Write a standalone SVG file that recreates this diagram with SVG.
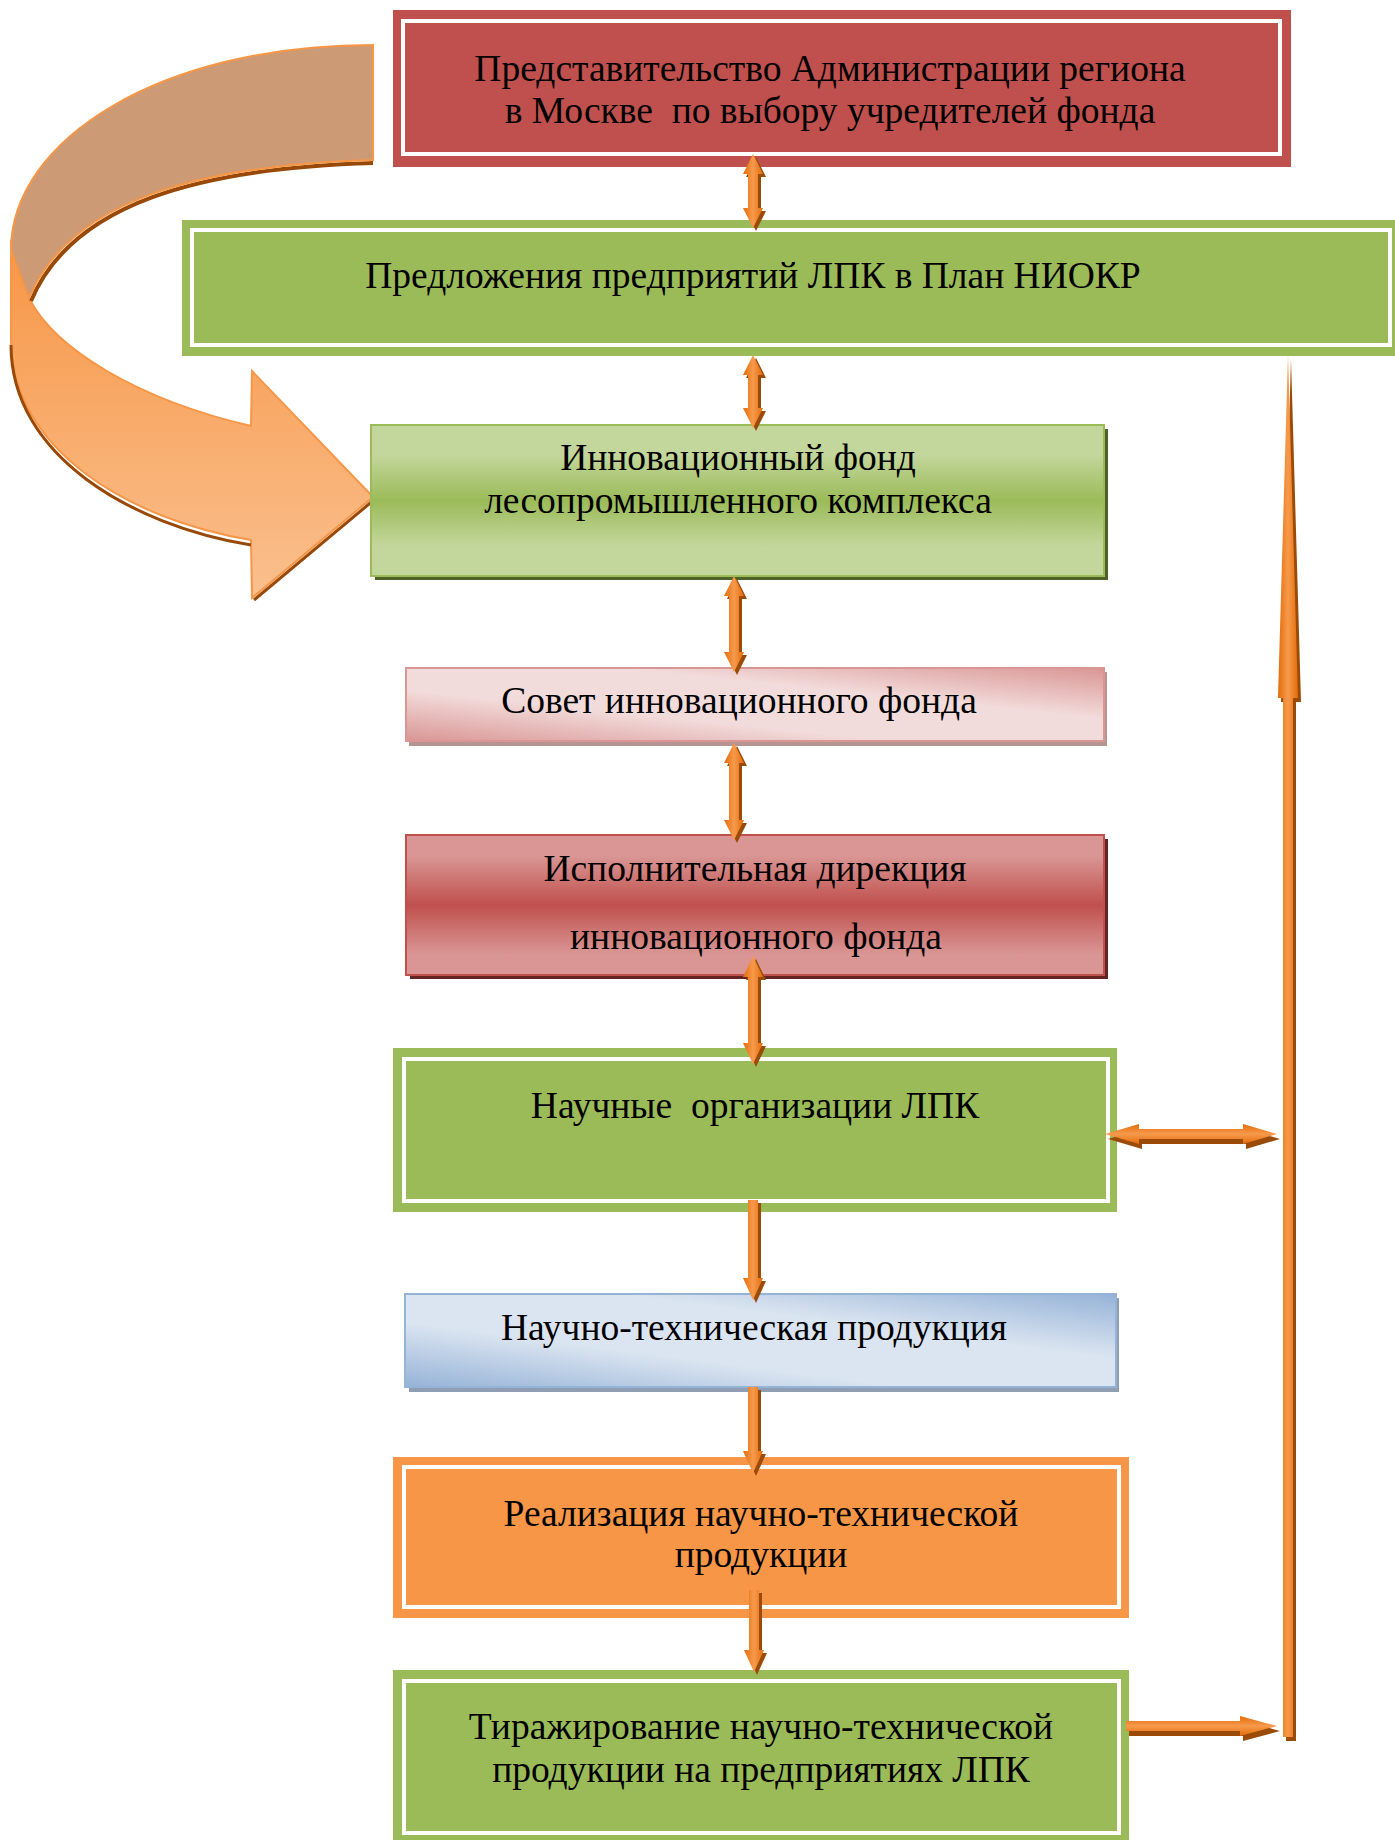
<svg xmlns="http://www.w3.org/2000/svg" width="1395" height="1840" viewBox="0 0 1395 1840">
<style>
.t{font-family:"Liberation Serif","Times New Roman",serif;font-size:37.5px;fill:#000;text-anchor:middle}
.wl{fill:none;stroke:#fff;stroke-width:4}
.af{fill:url(#gv)}
.ah{fill:url(#gh)}
.as{fill:#9A4B07}
</style>
<defs>
<linearGradient id="gv" x1="0" y1="0" x2="1" y2="0">
<stop offset="0" stop-color="#E36C09"/><stop offset="0.5" stop-color="#F79A4C"/><stop offset="1" stop-color="#E36C09"/>
</linearGradient>
<linearGradient id="gh" x1="0" y1="0" x2="0" y2="1">
<stop offset="0" stop-color="#E36C09"/><stop offset="0.5" stop-color="#F79A4C"/><stop offset="1" stop-color="#E36C09"/>
</linearGradient>
<linearGradient id="gGreen" x1="0" y1="0" x2="0" y2="1">
<stop offset="0" stop-color="#C3D69B"/><stop offset="0.2" stop-color="#C3D69B"/><stop offset="0.5" stop-color="#9BBB59"/><stop offset="0.8" stop-color="#C3D69B"/><stop offset="1" stop-color="#C3D69B"/>
</linearGradient>
<linearGradient id="gRed" x1="0" y1="0" x2="0" y2="1">
<stop offset="0" stop-color="#D99694"/><stop offset="0.15" stop-color="#D99694"/><stop offset="0.5" stop-color="#C0504D"/><stop offset="0.85" stop-color="#D99694"/><stop offset="1" stop-color="#D99694"/>
</linearGradient>
<linearGradient id="gPink" x1="1" y1="0" x2="0" y2="1">
<stop offset="0" stop-color="#D99694"/><stop offset="0.35" stop-color="#F2DCDB"/><stop offset="0.65" stop-color="#F2DCDB"/><stop offset="1" stop-color="#D99694"/>
</linearGradient>
<linearGradient id="gBlue" x1="1" y1="0" x2="0" y2="1">
<stop offset="0" stop-color="#95B3D7"/><stop offset="0.35" stop-color="#DBE5F1"/><stop offset="0.65" stop-color="#DBE5F1"/><stop offset="1" stop-color="#95B3D7"/>
</linearGradient>
<linearGradient id="gCurve" x1="0" y1="240" x2="0" y2="600" gradientUnits="userSpaceOnUse">
<stop offset="0" stop-color="#F79646"/><stop offset="1" stop-color="#FAC08F"/>
</linearGradient>
</defs>

<g id="curved-arrow">
<path d="M11,240 L11,340 C11,450 130,520 251,540 L252,598 L373,497 L252,371 L251,426 C140,400 55,350 29,298 Z" fill="url(#gCurve)" stroke="#F79646" stroke-width="2"/>
<path d="M11,345 C11,455 130,525 251,545 M254,600 L375,499" fill="none" stroke="#984807" stroke-width="3"/>
<path d="M31,301 C72,203 200,168 373,163" fill="none" stroke="#984807" stroke-width="4"/>
<path d="M373,45 C160,45 11,140 11,250 L29,298 C70,200 200,165 373,160 Z" fill="#CC9A74" stroke="#F79646" stroke-width="2"/>
</g>

<g id="n1">
<rect x="393" y="10" width="898" height="157" fill="#C0504D"/>
<rect x="403" y="21" width="877" height="133" class="wl"/>
<text class="t" x="830" y="81">Представительство Администрации региона</text>
<text class="t" x="830" y="123" xml:space="preserve">в Москве  по выбору учредителей фонда</text>
</g>

<g id="n2">
<rect x="182" y="220" width="1230" height="136" fill="#9BBB59"/>
<rect x="192" y="230" width="1198" height="115" class="wl"/>
<text class="t" x="753" y="288">Предложения предприятий ЛПК в План НИОКР</text>
</g>

<g id="n3">
<rect x="375" y="429" width="733" height="151" fill="#4F6228"/>
<rect x="371" y="425" width="733" height="151" fill="url(#gGreen)" stroke="#9BBB59" stroke-width="2"/>
<text class="t" x="738" y="470">Инновационный фонд</text>
<text class="t" x="738" y="513">лесопромышленного комплекса</text>
</g>

<g id="n4">
<rect x="409" y="672" width="698" height="74" fill="#B59492"/>
<rect x="406" y="668" width="698" height="73" fill="url(#gPink)" stroke="#D99694" stroke-width="2"/>
<text class="t" x="739" y="713">Совет инновационного фонда</text>
</g>

<g id="n5">
<rect x="410" y="839" width="698" height="140" fill="#632523"/>
<rect x="406" y="835" width="698" height="140" fill="url(#gRed)" stroke="#C0504D" stroke-width="2"/>
<text class="t" x="755" y="881">Исполнительная дирекция</text>
<text class="t" x="756" y="949">инновационного фонда</text>
</g>

<g id="n6">
<rect x="393" y="1048" width="724" height="164" fill="#9BBB59"/>
<rect x="404" y="1059" width="704" height="142" class="wl"/>
<text class="t" x="755" y="1118" xml:space="preserve">Научные  организации ЛПК</text>
</g>

<g id="n7">
<rect x="409" y="1298" width="710" height="94" fill="#8F9EB3"/>
<rect x="405" y="1294" width="711" height="93" fill="url(#gBlue)" stroke="#95B3D7" stroke-width="2"/>
<text class="t" x="754" y="1340">Научно-техническая продукция</text>
</g>

<g id="n8">
<rect x="393" y="1457" width="736" height="161" fill="#F79646"/>
<rect x="404" y="1467" width="715" height="140" class="wl"/>
<text class="t" x="761" y="1526">Реализация научно-технической</text>
<text class="t" x="761" y="1567">продукции</text>
</g>

<g id="n9">
<rect x="393" y="1670" width="736" height="180" fill="#9BBB59"/>
<rect x="404" y="1681" width="715" height="152" class="wl"/>
<text class="t" x="761" y="1739">Тиражирование научно-технической</text>
<text class="t" x="761" y="1782">продукции на предприятиях ЛПК</text>
</g>

<g id="connectors">
<path class="as" transform="translate(3,3)" d="M753,154 L763,174 L758,174 L758,208 L763,208 L753,228 L743,208 L748,208 L748,174 L743,174 Z"/>
<path class="af" d="M753,154 L763,174 L758,174 L758,208 L763,208 L753,228 L743,208 L748,208 L748,174 L743,174 Z"/>
<path class="as" transform="translate(3,3)" d="M753,355 L763,375 L758,375 L758,408 L763,408 L753,428 L743,408 L748,408 L748,375 L743,375 Z"/>
<path class="af" d="M753,355 L763,375 L758,375 L758,408 L763,408 L753,428 L743,408 L748,408 L748,375 L743,375 Z"/>
<path class="as" transform="translate(3,3)" d="M734,576 L744,596 L739,596 L739,652 L744,652 L734,672 L724,652 L729,652 L729,596 L724,596 Z"/>
<path class="af" d="M734,576 L744,596 L739,596 L739,652 L744,652 L734,672 L724,652 L729,652 L729,596 L724,596 Z"/>
<path class="as" transform="translate(3,3)" d="M734,743 L744,763 L739,763 L739,820 L744,820 L734,840 L724,820 L729,820 L729,763 L724,763 Z"/>
<path class="af" d="M734,743 L744,763 L739,763 L739,820 L744,820 L734,840 L724,820 L729,820 L729,763 L724,763 Z"/>
<path class="as" transform="translate(3,3)" d="M753,956 L763,977 L758,977 L758,1043 L763,1043 L753,1064 L743,1043 L748,1043 L748,977 L743,977 Z"/>
<path class="af" d="M753,956 L763,977 L758,977 L758,1043 L763,1043 L753,1064 L743,1043 L748,1043 L748,977 L743,977 Z"/>
<path class="as" transform="translate(3,3)" d="M748,1200 L758,1200 L758,1278 L763,1278 L753,1300 L743,1278 L748,1278 Z"/>
<path class="af" d="M748,1200 L758,1200 L758,1278 L763,1278 L753,1300 L743,1278 L748,1278 Z"/>
<path class="as" transform="translate(3,3)" d="M748,1387 L758,1387 L758,1451 L763,1451 L753,1473 L743,1451 L748,1451 Z"/>
<path class="af" d="M748,1387 L758,1387 L758,1451 L763,1451 L753,1473 L743,1451 L748,1451 Z"/>
<path class="as" transform="translate(3,3)" d="M749,1590 L759,1590 L759,1650 L764,1650 L754,1672 L744,1650 L749,1650 Z"/>
<path class="af" d="M749,1590 L759,1590 L759,1650 L764,1650 L754,1672 L744,1650 L749,1650 Z"/>
<path class="as" transform="translate(3,5)" d="M1105,1134 L1139,1124 L1139,1129 L1243,1129 L1243,1124 L1277,1134 L1243,1144 L1243,1139 L1139,1139 L1139,1144 Z"/>
<path class="ah" d="M1105,1134 L1139,1124 L1139,1129 L1243,1129 L1243,1124 L1277,1134 L1243,1144 L1243,1139 L1139,1139 L1139,1144 Z"/>
<path class="as" transform="translate(3,5)" d="M1126,1721 L1240,1721 L1240,1716 L1277,1726 L1240,1736 L1240,1731 L1126,1731 Z"/>
<path class="ah" d="M1126,1721 L1240,1721 L1240,1716 L1277,1726 L1240,1736 L1240,1731 L1126,1731 Z"/>
<path class="as" transform="translate(3,4)" d="M1288,355 L1298,698 L1293,698 L1293,1737 L1283,1737 L1283,698 L1278,698 Z"/>
<path class="af" d="M1288,355 L1298,698 L1293,698 L1293,1737 L1283,1737 L1283,698 L1278,698 Z"/>
</g>
</svg>
